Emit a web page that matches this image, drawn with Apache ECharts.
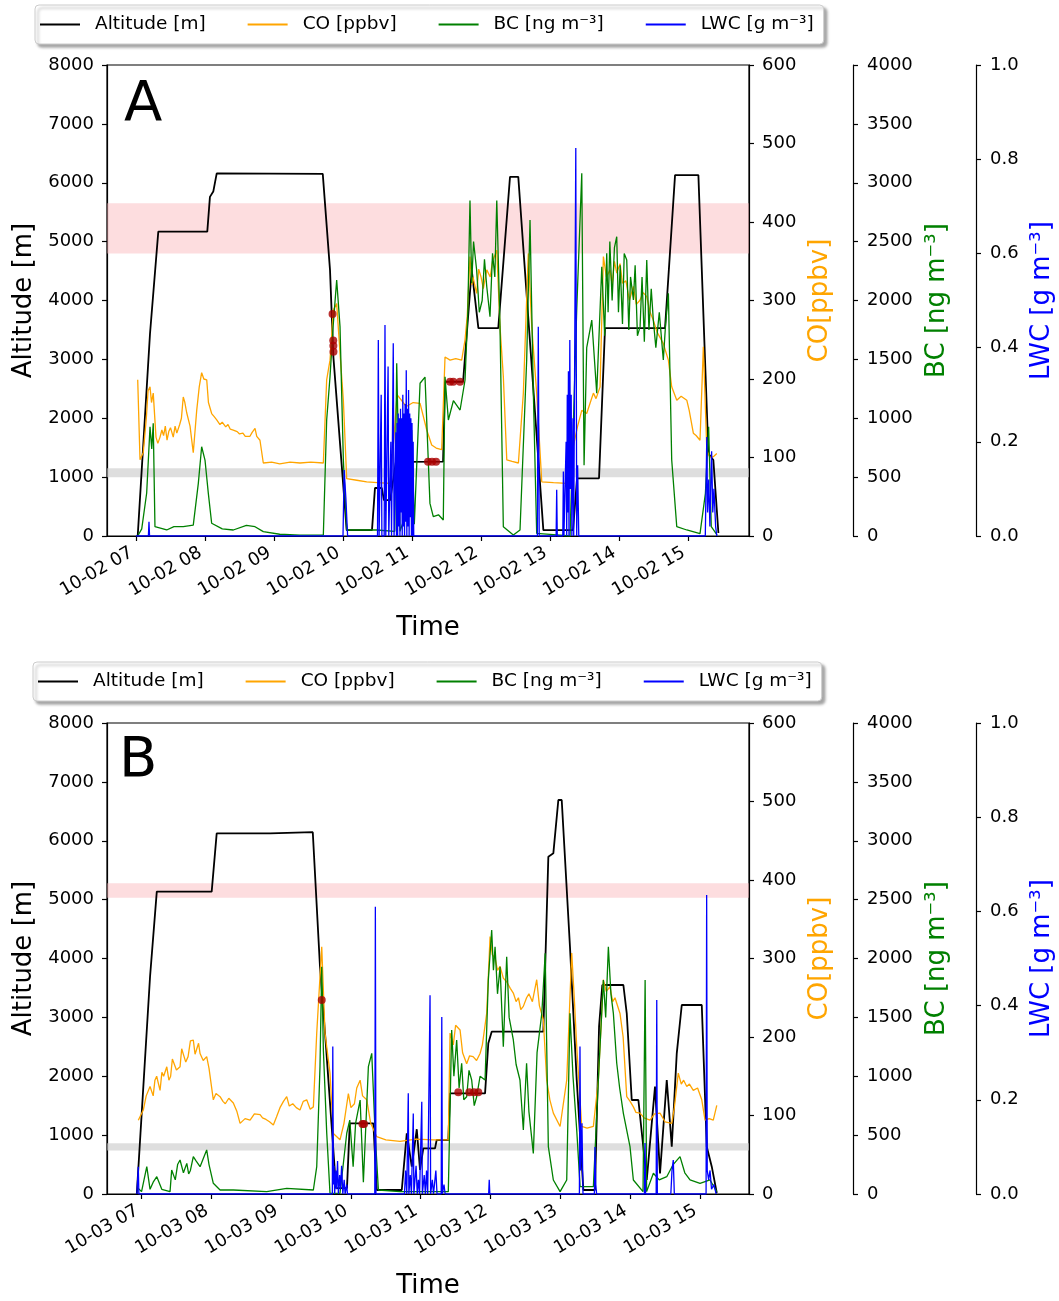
<!DOCTYPE html>
<html><head><meta charset="utf-8">
<script src="https://cdn.jsdelivr.net/npm/echarts@6/dist/echarts.min.js"></script>
<style>html,body{margin:0;padding:0;background:#fff}#c{width:1059px;height:1301px}</style>
</head><body><div id="c"></div>
<script>
// x values are minutes after 07:00 of each flight day
const tickMinutes = [0, 60, 120, 180, 240, 300, 360, 420, 480];
const tickLabelsA = ['10-02 07','10-02 08','10-02 09','10-02 10','10-02 11','10-02 12','10-02 13','10-02 14','10-02 15'];
const tickLabelsB = ['10-03 07','10-03 08','10-03 09','10-03 10','10-03 11','10-03 12','10-03 13','10-03 14','10-03 15'];
const seriesNames = ['Altitude [m]', 'CO [ppbv]', 'BC [ng m\u207B\u00B3]', 'LWC [g m\u207B\u00B3]'];

// ---- Panel A (10-02) ----
const altitudeA = [[1.5,0],[12.2,3440],[19.4,5170],[62,5170],[64.3,5760],[67.2,5850],[70.2,6160],[162.4,6150],[168.7,4520],[171.6,3050],[183.2,100],[205.2,100],[207.8,815],[213.7,815],[215.6,610],[221,610],[226,1260],[267,1262],[268.7,2620],[284.4,2620],[291.9,4520],[297.7,3530],[315,3530],[325.2,6100],[332.4,6100],[354.2,100],[380,100],[383.5,980],[402.6,980],[407.8,3530],[460,3530],[468.7,6130],[489,6130],[497.7,1400],[502,1290],[506.4,50]];
const coA = [[1.5,199],[3.5,97],[6.3,106],[9,150],[10.5,185],[12.2,190],[13.5,170],[15,182],[17.4,126],[19,118],[20.9,126],[22.5,135],[24,128],[25.5,140],[27,122],[28.5,133],[30,138],[32.4,126],[34,140],[35.5,131],[38,142],[39.5,150],[41.1,177],[42.5,170],[44.1,157],[47,140],[49.8,106],[52.8,160],[55,190],[57.1,208],[59,200],[61.5,199],[63,170],[65.8,156],[68,152],[70.2,148],[73,142],[75,145],[78,139],[80,142],[82,136],[84.6,135],[88,133],[90,130],[93,131],[95,127],[99.1,127],[101,132],[103.5,137],[105,127],[107.8,122],[110.7,93],[118,94],[125,92],[134,94],[142.6,93],[152,94],[162.9,93],[165.8,199],[168.7,224],[171.6,288],[174.5,296],[177.4,233],[180.3,173],[183.2,73],[192,71],[200.6,69],[210,68],[220.9,67],[224,120],[227,180],[235,165],[241,170],[247,169],[252.8,135],[257.1,116],[261,112],[265.8,110],[268.7,228],[273.1,224],[278,226],[283.2,224],[286.1,250],[288,280],[290.4,356],[292,320],[293,330],[296.2,309],[298,340],[300,330],[302,315],[305,339],[308,330],[310,350],[313.7,364],[316.5,267],[319.4,203],[322.4,97],[327,95],[332.5,93],[336.8,182],[341.1,360],[344.1,267],[348.4,182],[352.8,69],[363,68],[374.5,67],[380.2,114],[384,140],[387.6,160],[391.9,156],[395,170],[397.7,182],[400,175],[403.5,190],[406.4,356],[409,330],[412.2,339],[414,320],[416,350],[418,335],[420.9,347],[423,322],[426,325],[429,300],[432.5,318],[435,295],[438,300],[441,310],[444.1,305],[447,285],[449.8,275],[453,260],[458.5,245],[462.9,224],[465.8,190],[470.2,173],[474,178],[478.9,173],[481,160],[484.6,131],[487,128],[490.4,122],[493.3,241],[496.3,110],[499,100],[502,101],[505,105]];
const bcA = [[1.5,0],[5,60],[9.3,365],[12.2,928],[13.7,739],[15,957],[16.5,79],[26.7,51],[33,80],[41.1,79],[49.8,93],[54.2,447],[57.1,758],[60,645],[62.9,362],[65.8,108],[75,60],[84.6,51],[96,90],[103.5,79],[110.7,37],[125,15],[142.6,8],[162.9,8],[165.8,985],[168.7,1353],[171.6,1806],[174.5,2174],[177.4,1778],[180.3,645],[183.2,51],[209.3,51],[225,40],[226.7,1467],[229.6,40],[235,200],[239.7,900],[242,100],[247,1297],[251.3,1350],[255.6,277],[258.5,164],[263,180],[267.2,136],[268.7,1353],[271.6,985],[276,1150],[281.8,1070],[286.1,1325],[288.5,1900],[290.4,2850],[291.9,2146],[293.5,2500],[296.2,2259],[298.5,1900],[301,2000],[303,2350],[305,2117],[307.8,1862],[310,2400],[312,2200],[313.7,2850],[316.5,1778],[319.4,79],[328.1,8],[333.9,51],[339.7,1495],[342.6,2684],[345.5,1212],[348.4,23],[365.8,10],[377.4,0],[383.2,1919],[387.6,3080],[389.6,600],[391.9,1600],[396.3,1834],[400.6,1212],[403,1800],[405,2287],[407.5,1700],[409.3,2401],[410.5,1900],[412,2500],[414,2000],[416,2450],[418,2542],[419.5,1900],[421,2300],[423,1800],[424.5,2400],[426.7,2344],[428.5,1750],[430,2200],[432.5,2004],[434,2300],[436,1700],[438.3,1778],[440,2200],[442,1650],[444.1,2344],[446,1750],[448,2100],[449.8,1834],[452,1600],[455,1900],[458.5,1495],[460.5,1800],[462.9,2061],[465.8,645],[470.2,79],[478.9,51],[490.4,20],[495.1,362],[497.9,928],[500.2,79],[505.2,10]];
const lwcA = [[0,0],[10.8,0],[11.3,0.03],[11.8,0],[180,0],[181,0.14],[182.5,0.08],[184,0],[210,0],[210.7,0.416],[211.4,0],[212.6,0],[213.2,0.3],[213.8,0],[215.8,0],[216.5,0.448],[217.2,0],[218.6,0],[219.2,0.36],[219.8,0],[221,0],[221.6,0.2],[222.2,0],[223,0],[223.7,0.409],[224.4,0],[225.5,0],[226,0.22],[226.5,0],[227,0.24],[227.5,0],[228,0.26],[228.5,0.02],[229,0.25],[229.5,0],[230,0.27],[230.5,0.05],[231,0.25],[231.5,0],[232,0.3],[232.5,0.02],[233,0.26],[233.5,0],[234,0.28],[234.5,0.03],[235,0.352],[235.5,0],[236,0.27],[236.5,0.02],[237,0.31],[237.5,0],[238,0.26],[238.5,0.04],[239,0.25],[239.5,0],[240,0.24],[240.5,0],[241,0.2],[241.5,0],[349,0],[349.8,0.444],[350.6,0],[365.3,0],[365.8,0.098],[366.3,0],[371.1,0],[371.6,0.137],[372.1,0],[373.5,0],[374,0.2],[374.5,0],[375,0.3],[375.5,0.05],[376,0.35],[376.5,0],[377.2,0.416],[377.8,0.1],[378.4,0.3],[379,0],[380,0.25],[380.6,0],[381.6,0],[382.4,0.824],[383.2,0],[384,0.15],[385,0],[495,0],[496.3,0.21],[497,0.05],[498,0.12],[499,0.02],[500.5,0.18],[501.5,0.05],[502.5,0.1],[504,0.02],[505,0]];
const dotsA = [[170.9,3770],[171.5,3320],[171.6,3230],[171.7,3130],[253.9,1262],[257.4,1262],[260.9,1262],[273.1,2621],[275.9,2621],[281.7,2621]];
const pinkBandA = [4800, 5650];
const grayBandA = [1000, 1150];

// ---- Panel B (10-03) ----
const altitudeB = [[-4.1,0],[7.3,3690],[13.1,5135],[60.3,5135],[64.6,6126],[110.5,6126],[111.3,6145],[147.2,6145],[153.4,3861],[158.6,2500],[167.2,100],[176.6,100],[179,1200],[199.3,1200],[202.2,68],[223.7,68],[228,1031],[232.3,464],[236.6,1100],[239.4,408],[242.2,776],[252.3,776],[253.7,917],[263.7,917],[265.2,1710],[295.3,1710],[298.1,2560],[301,2757],[345.4,2757],[349.7,5729],[354,5786],[358.3,6692],[361.2,6692],[368.3,4200],[374.1,1936],[379.8,68],[389.8,68],[393.3,2842],[396.1,3550],[414.2,3550],[417.1,3069],[421.4,1597],[427.1,1597],[434.3,238],[441.4,1823],[445.7,351],[451.5,1936],[455.8,804],[460.1,2390],[464.4,3210],[481.6,3210],[485.9,804],[490.2,464],[494.5,17]];
const coB = [[-2.8,94],[1.5,107],[4,125],[7.3,137],[10,125],[11.5,145],[13,150],[15.9,132],[17.5,155],[19,150],[21.7,162],[23.5,145],[25,150],[26.5,172],[28,170],[30,158],[33.1,162],[34.5,185],[36,185],[38,168],[40,175],[42,195],[44.5,196],[46,178],[47,180],[49,192],[50.3,179],[53,170],[56,175],[58,160],[61.7,120],[64,128],[67.5,124],[70,118],[72,115],[75,122],[78.9,116],[82,105],[84.7,90],[89,96],[93.3,94],[97,102],[101.9,101],[104,97],[107,95],[110,92],[113.3,88],[116,98],[119,110],[122,118],[124.8,124],[127,112],[130,115],[133,110],[136.2,107],[139,118],[142,120],[145,108],[147.7,111],[150.6,205],[154.9,315],[157.7,205],[162,154],[164.9,77],[170.6,69],[174,90],[177.8,128],[180,110],[183,115],[185,135],[187.9,145],[190,125],[193.6,120],[197,90],[202.2,73],[210,69],[222.2,67],[236,70],[250.8,69],[263.7,69],[265.2,205],[268,190],[270,215],[273.8,209],[276,180],[279.5,166],[282,176],[285,175],[288,170],[291,179],[293,190],[296.7,230],[299.6,328],[301.5,305],[304,300],[306,285],[308.2,290],[311,275],[314,270],[317,262],[319.6,256],[322,245],[324,250],[326,235],[328.2,239],[331,250],[333,255],[336,245],[339.7,273],[342,240],[345.4,222],[348.3,145],[351,120],[354,103],[359.8,86],[365.5,145],[369.8,307],[372,250],[374.1,188],[378.4,86],[383,84],[388.4,86],[392.7,145],[397,273],[399.5,258],[402.7,264],[405,245],[407,250],[411.3,230],[414,200],[417.1,124],[420,118],[422.8,111],[425,104],[428.5,103],[432,97],[437.1,94],[441,102],[445.7,103],[450,92],[455.8,90],[458,110],[461.4,154],[464,140],[466,145],[468.7,137],[471,140],[474.3,132],[478,135],[481.6,120],[484.4,94],[488,96],[491.5,94],[494.5,113]];
const bcB = [[-2.8,48],[0,20],[4.5,232],[7.3,40],[10,100],[13.1,147],[17.4,40],[24.5,20],[25.9,204],[29,120],[31,250],[33.1,289],[36,180],[38.9,260],[40.5,170],[42,200],[44.5,317],[47,280],[50.3,232],[53,300],[56,374],[58,250],[61.7,91],[67.5,34],[78.9,34],[107.6,20],[124.8,48],[147.7,34],[150.6,232],[153.4,1081],[154.9,1930],[156.3,1223],[159.2,516],[162,6],[170.6,6],[176.4,516],[179,628],[181.9,232],[184,600],[187.9,798],[190.7,100],[195,1081],[197.9,1195],[200.8,516],[203.6,34],[222.2,20],[263.7,20],[266.6,1393],[268.5,1000],[270.9,1308],[273,900],[275.2,1110],[277,800],[279.5,826],[281.5,1050],[283.8,968],[286,750],[288.1,826],[291,1000],[295.3,968],[298.1,1817],[301,2242],[302.5,1900],[303.9,2100],[306,1700],[308.2,1930],[311,1251],[313.9,2015],[316,1500],[319.6,1308],[322,1100],[325.3,968],[328.2,543],[331,1110],[333,700],[336.8,345],[340,1200],[344.1,1534],[347,2044],[349.7,402],[354,119],[359.8,20],[365.5,119],[368.3,1534],[370.9,1000],[374.1,543],[377,62],[388.4,62],[392.7,968],[397,1817],[399,1500],[401.3,2100],[403.5,1700],[405.6,1534],[408.5,1110],[411,900],[414.2,685],[419.9,402],[422.8,119],[431.1,20],[432.9,1817],[434.2,20],[440,176],[445,120],[451.5,147],[457,250],[462.9,317],[467,180],[471.5,119],[480.1,91],[488.7,119],[494.5,20]];
const lwcB = [[-4,0],[-3.3,0],[-2.8,0.058],[-2.3,0],[164,0],[164.4,0.313],[164.9,0.02],[165.5,0.06],[166,0],[167,0.05],[167.6,0.01],[168.5,0.07],[169.2,0],[170.3,0.04],[171,0.01],[172,0.06],[173,0],[174.2,0.03],[175,0],[176.4,0.02],[177,0],[200.5,0],[201,0.61],[201.5,0],[226,0],[227,0.05],[228,0],[228.8,0],[229.3,0.214],[229.8,0],[231,0.04],[232,0],[233.1,0],[233.6,0.171],[234.1,0],[236,0.06],[237,0],[238,0.03],[239,0],[240.4,0],[240.9,0.196],[241.4,0],[243,0.04],[244,0],[245,0.05],[246,0],[247.5,0],[248,0.422],[248.5,0],[250,0.03],[251,0],[253,0.05],[254,0],[257.6,0],[258.1,0.376],[258.6,0],[260,0.02],[261,0],[298.4,0],[298.9,0.03],[299.4,0],[376.4,0],[376.9,0.313],[377.5,0.05],[378.6,0.15],[379.5,0],[389.3,0],[389.8,0.1],[390.5,0.02],[391.2,0],[432.3,0],[432.8,0.108],[433.3,0],[442.4,0],[442.9,0.412],[443.4,0],[455,0],[456,0.05],[457.1,0.072],[458,0],[485.3,0],[485.8,0.635],[486.3,0.05],[487.5,0.03],[488.7,0.05],[490,0.01],[492,0.02],[494,0]];
const dotsB = [[154.9,3295],[189.9,1189],[191.3,1189],[272.3,1727],[281.8,1727],[285.8,1727],[289.5,1727]];
const pinkBandB = [5030, 5280];
const grayBandB = [740, 860];

const FONT = 'DejaVu Sans';
const C_ALT = '#000000', C_CO = '#FFA500', C_BC = '#008000', C_LWC = '#0000FF', C_DOT = '#aa0000';

const chart = echarts.init(document.getElementById('c'), null, {renderer: 'canvas'});

const panels = [
  {top: 65, legendTop: 5, legendLeft: 35, letter: 'A', letterTop: 77, xmin: -25.2, xmax: 533, labels: tickLabelsA,
   alt: altitudeA, co: coA, bc: bcA, lwc: lwcA, dots: dotsA, pink: pinkBandA, gray: grayBandA},
  {top: 723, legendTop: 662, legendLeft: 33, letter: 'B', letterTop: 733, xmin: -29.7, xmax: 522.2, labels: tickLabelsB,
   alt: altitudeB, co: coB, bc: bcB, lwc: lwcB, dots: dotsB, pink: pinkBandB, gray: grayBandB}
];

const grid = [], xAxis = [], yAxis = [], series = [], legend = [], graphic = [];
const axisBase = {
  axisLine: {show: true, onZero: false, lineStyle: {color: '#000', width: 1.2}},
  axisTick: {show: true, length: 5, lineStyle: {color: '#000', width: 1.2}},
  splitLine: {show: false}
};
const plain = (v) => String(v);

panels.forEach((p, g) => {
  grid.push({left: 107, top: p.top, width: 642, height: 471, show: true, borderColor: '#000', borderWidth: 1.2,
    backgroundColor: 'transparent', containLabel: false, outerBoundsMode: 'none'});
  xAxis.push(Object.assign({}, axisBase, {
    type: 'value', gridIndex: g, min: p.xmin, max: p.xmax,
    name: 'Time', nameLocation: 'middle', nameGap: 79,
    nameTextStyle: {fontFamily: FONT, fontSize: 26, color: '#000'},
    axisTick: {show: true, length: 5, lineStyle: {color: '#000', width: 1.2}, customValues: tickMinutes},
    axisLabel: {fontFamily: FONT, fontSize: 18, color: '#000', rotate: 30, margin: 13, padding: [0, 5, 0, 0],
      customValues: tickMinutes,
      formatter: (v) => p.labels[tickMinutes.indexOf(Math.round(v))] || ''}
  }));
  const yb = g * 4;
  yAxis.push(Object.assign({}, axisBase, {
    type: 'value', gridIndex: g, position: 'left', min: 0, max: 8000, interval: 1000,
    name: 'Altitude [m]', nameLocation: 'middle', nameGap: 70,
    nameTextStyle: {fontFamily: FONT, fontSize: 26, color: '#000'},
    axisLabel: {fontFamily: FONT, fontSize: 18, color: '#000', margin: 13, formatter: plain}
  }));
  yAxis.push(Object.assign({}, axisBase, {
    type: 'value', gridIndex: g, position: 'right', offset: 0, min: 0, max: 600, interval: 100,
    name: 'CO[ppbv]', nameLocation: 'middle', nameGap: 56,
    nameTextStyle: {fontFamily: FONT, fontSize: 26, color: C_CO},
    axisLabel: {fontFamily: FONT, fontSize: 18, color: '#000', margin: 13, formatter: plain}
  }));
  yAxis.push(Object.assign({}, axisBase, {
    type: 'value', gridIndex: g, position: 'right', offset: 104, min: 0, max: 4000, interval: 500,
    name: 'BC [ng m\u207B\u00B3]', nameLocation: 'middle', nameGap: 71,
    nameTextStyle: {fontFamily: FONT, fontSize: 26, color: C_BC},
    axisLabel: {fontFamily: FONT, fontSize: 18, color: '#000', margin: 14, formatter: plain}
  }));
  yAxis.push(Object.assign({}, axisBase, {
    type: 'value', gridIndex: g, position: 'right', offset: 227, min: 0, max: 1, interval: 0.2,
    name: 'LWC [g m\u207B\u00B3]', nameLocation: 'middle', nameGap: 53,
    nameTextStyle: {fontFamily: FONT, fontSize: 26, color: C_LWC},
    axisLabel: {fontFamily: FONT, fontSize: 18, color: '#000', margin: 14, formatter: (v) => v.toFixed(1)}
  }));

  const lineBase = {type: 'line', showSymbol: false, symbol: 'none', xAxisIndex: g, animation: false, sampling: null, silent: true};
  series.push(Object.assign({}, lineBase, {
    name: seriesNames[0], yAxisIndex: yb, data: p.alt, z: 3,
    lineStyle: {color: C_ALT, width: 1.8}, itemStyle: {color: C_ALT},
    markArea: {silent: true, z: 1, data: [
      [{yAxis: p.pink[0], itemStyle: {color: 'rgba(250,180,185,0.45)'}}, {yAxis: p.pink[1]}],
      [{yAxis: p.gray[0], itemStyle: {color: 'rgba(200,200,200,0.6)'}}, {yAxis: p.gray[1]}]
    ]}
  }));
  series.push(Object.assign({}, lineBase, {
    name: seriesNames[1], yAxisIndex: yb + 1, data: p.co, z: 4,
    lineStyle: {color: C_CO, width: 1.3}, itemStyle: {color: C_CO}
  }));
  series.push(Object.assign({}, lineBase, {
    name: seriesNames[2], yAxisIndex: yb + 2, data: p.bc, z: 5,
    lineStyle: {color: C_BC, width: 1.3}, itemStyle: {color: C_BC}
  }));
  series.push(Object.assign({}, lineBase, {
    name: seriesNames[3], yAxisIndex: yb + 3, data: p.lwc, z: 6,
    lineStyle: {color: C_LWC, width: 1.3}, itemStyle: {color: C_LWC}
  }));
  series.push({
    type: 'scatter', name: 'dots' + g, xAxisIndex: g, yAxisIndex: yb, data: p.dots, z: 7,
    symbolSize: 8, itemStyle: {color: C_DOT}, animation: false, silent: true
  });

  legend.push({
    data: seriesNames, left: p.legendLeft, top: p.legendTop, orient: 'horizontal',
    icon: 'rect', itemWidth: 40, itemHeight: 2, itemGap: 42,
    padding: [10, 10, 10, 5],
    backgroundColor: '#fff', borderColor: '#cccccc', borderWidth: 1, borderRadius: 4,
    shadowBlur: 3, shadowColor: 'rgba(0,0,0,0.35)', shadowOffsetX: 3, shadowOffsetY: 3,
    selectedMode: false,
    textStyle: {fontFamily: FONT, fontSize: 18.5, color: '#000', padding: [0, 0, 0, 10]}
  });

  graphic.push({type: 'text', left: g === 0 ? 124 : 119, top: p.letterTop,
    style: {text: p.letter, font: '56px "DejaVu Sans"', fill: '#000'}, z: 10});
});

chart.setOption({
  animation: false,
  backgroundColor: '#fff',
  textStyle: {fontFamily: FONT},
  grid, xAxis, yAxis, series, legend, graphic
});
</script></body></html>
